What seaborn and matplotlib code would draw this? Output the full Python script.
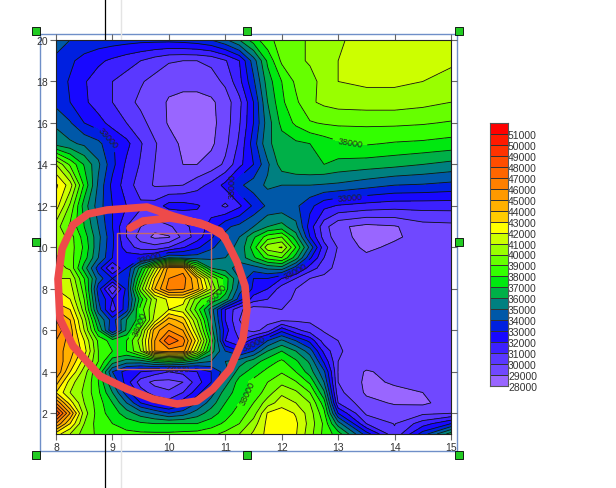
import numpy as np
import matplotlib
matplotlib.use('agg')
import matplotlib.pyplot as plt
from matplotlib.colors import ListedColormap
from matplotlib.patches import Rectangle
import seaborn as sns

# grid, values in thousands
x_vals = [8, 8.25, 8.5, 8.75, 9, 9.25, 9.5, 9.75, 10, 10.25, 10.5, 10.75, 11, 11.25, 11.5, 11.75,
          12, 12.25, 12.5, 12.75, 13, 13.5, 14, 14.5, 15]
y_vals = [20, 19, 18, 17, 16, 15, 14, 13, 12, 11, 10.5, 10, 9.5, 9, 8.5, 8, 7.5, 7, 6.5, 6, 5.5, 5,
          4.5, 4, 3.5, 3, 2.5, 2, 1.5, 1]
z_rows = [
    [34.2, 34, 33.8, 33.6, 33.5, 33.4, 33.3, 33.3, 33.3, 33.4, 33.6, 34, 34.8, 36, 37.5, 38.7, 39.4, 39.8, 40.1, 40.5, 40.9, 41.3, 41.5, 41.5, 41.5],
    [33.9, 33.2, 32.6, 32.2, 31.8, 31.4, 31, 30.5, 30.1, 30, 30, 30.2, 30.9, 32, 34.5, 37.2, 39.2, 39.8, 40.1, 40.5, 41, 41.5, 41.6, 41.5, 41.2],
    [33.5, 32.9, 32.1, 31.5, 31, 30.6, 30.1, 29.7, 29.3, 29.3, 29.4, 29.6, 30.2, 31.7, 33.8, 36.5, 38, 39.2, 39.7, 40.3, 41, 41.2, 41.2, 41, 40.6],
    [33.7, 33, 32.2, 31.5, 31, 30.3, 29.8, 29.4, 28.9, 28.7, 28.6, 28.8, 29.5, 30.7, 33, 36, 37.8, 38.8, 39.85, 40.2, 40.4, 40.5, 40.5, 40.3, 40],
    [34.8, 34.1, 33, 32.4, 31.6, 31, 30.3, 29.6, 28.9, 28.6, 28.6, 28.7, 29.5, 30.9, 33, 35.5, 37.3, 38.2, 38.9, 39.1, 39.2, 39.2, 39.2, 39.1, 38.9],
    [35.6, 35.2, 34.8, 34.3, 33.1, 32.3, 31.1, 30.1, 29.4, 28.8, 28.6, 28.8, 29.7, 31.2, 33.5, 35.8, 36.5, 36.8, 37, 37.4, 37.8, 38.1, 37.9, 37.8, 37.6],
    [41, 38.8, 36.9, 35.2, 33.3, 31.8, 30.9, 30, 29.3, 29, 29, 29.4, 30.2, 31.7, 33, 34.8, 36.5, 36.9, 37, 37, 36.7, 36.5, 36.3, 36, 35.7],
    [43.2, 41.5, 37.8, 34.8, 32.7, 31.5, 30.5, 29.9, 29.9, 30, 30.6, 31.3, 32.3, 33.8, 34.5, 35.2, 35, 35, 35, 34.9, 34.8, 34.4, 34, 33.9, 33.7],
    [42.5, 39.8, 36.5, 34.5, 33, 32, 31.2, 31.4, 32.4, 32.4, 32.1, 31.6, 30.8, 31.8, 33.2, 34.2, 34.3, 34.2, 33.3, 32.3, 31.9, 31.6, 31.4, 31.4, 31.4],
    [40.5, 38.8, 37, 35, 33, 31, 30, 29.3, 29.8, 30.6, 31.5, 32.3, 33.8, 34.3, 35, 36, 36.4, 35.3, 32.5, 30.4, 29.2, 28.7, 28.9, 29.6, 29.7],
    [41, 39.5, 37.5, 35.3, 33.2, 31, 29.5, 28.8, 28.9, 30.3, 31.5, 32.8, 34.2, 35, 36.8, 38.5, 39, 36.5, 33, 30.6, 29.4, 28.6, 28.8, 29.5, 29.6],
    [41, 39.5, 37.8, 35.2, 33.1, 31.5, 30.6, 30.4, 31, 31.9, 32.8, 33.8, 34.7, 35.2, 37.5, 40.6, 41.1, 38, 34.7, 31.4, 29.9, 28.7, 29.3, 29.5, 29.5],
    [40, 39.5, 37.5, 35, 33, 32.5, 32.7, 33.3, 35, 34.6, 34.5, 34.8, 35, 35.4, 36.8, 38.4, 39, 36.5, 33.2, 31, 29.7, 29.3, 29.4, 29.5, 29.5],
    [40.5, 39.8, 36.5, 33.5, 30.8, 33, 36.5, 41, 45.5, 45.5, 39.5, 36, 35.5, 34.5, 34.5, 35.2, 35.5, 33.5, 31.5, 30.5, 29.6, 29.5, 29.5, 29.5, 29.5],
    [41, 41, 38, 34.5, 33, 33.2, 38, 43, 46, 46.5, 44, 40, 37.5, 35, 33, 33, 32, 31, 30, 29.7, 29.5, 29.5, 29.5, 29.5, 29.5],
    [42, 41.5, 38.5, 33.5, 30, 33.3, 39.5, 44, 46.5, 46.2, 44.5, 41, 37.5, 34.5, 32.8, 32, 30.5, 30, 29.8, 29.6, 29.5, 29.5, 29.5, 29.5, 29.5],
    [42.5, 42, 39, 34, 32, 33.3, 37.5, 40.8, 42.3, 42.5, 39.5, 37.8, 36.5, 33.5, 31.5, 31, 30.2, 29.9, 29.7, 29.6, 29.5, 29.5, 29.5, 29.5, 29.5],
    [44, 43, 39.5, 34.5, 31.5, 33.5, 38.5, 41, 42, 41.5, 38.5, 35.5, 32, 30.2, 29.4, 29.7, 30, 29.8, 29.7, 29.6, 29.5, 29.5, 29.5, 29.5, 29.5],
    [46, 44, 40.5, 36, 33.5, 36, 37.5, 41.5, 44.5, 43.5, 40, 36, 32, 30, 29.3, 29.6, 29.8, 29.8, 29.8, 29.7, 29.6, 29.5, 29.5, 29.5, 29.5],
    [47, 44.5, 41, 37, 33, 36.2, 39.5, 44.5, 46, 45, 41, 36.5, 32.5, 30.3, 29.6, 30.5, 32.7, 31.3, 30.5, 29.9, 29.9, 29.5, 29.5, 29.5, 29.5],
    [46, 44.5, 42, 38.8, 37.5, 38, 40.5, 45, 48, 46.5, 42.5, 37.5, 32, 31, 32.5, 34, 35.2, 34, 32.7, 30.5, 30, 29.5, 29.5, 29.5, 29.5],
    [45.5, 44.5, 42.5, 39, 38, 38, 40, 45, 45.5, 45.5, 41, 36.5, 34, 33, 34, 36, 37, 36, 34.5, 31.7, 30.1, 29.5, 29.5, 29.5, 29.5],
    [46, 44, 41.5, 39, 36.5, 35.5, 35.5, 36.5, 37, 36.5, 35.5, 35, 35, 35.5, 36.5, 37.5, 38.2, 37.2, 35.8, 32.8, 30, 29.5, 29.5, 29.5, 29.5],
    [46, 43, 40.5, 38, 34, 32.5, 32, 31.5, 31, 31.3, 32, 33, 34.5, 36.5, 37.5, 38.3, 38.9, 38, 36.5, 34.2, 29.95, 28.9, 29.3, 29.6, 29.6],
    [44.5, 41.5, 40, 38, 35, 32.5, 30.5, 29.7, 29.7, 30, 31.5, 33, 35.5, 37.5, 38.3, 39, 39.7, 39.1, 37.8, 35, 30, 28.8, 29.1, 29.5, 29.6],
    [43, 41, 39.8, 38.2, 36, 33.5, 31.5, 30.5, 30.1, 31, 32.5, 34.5, 36.5, 37.5, 38.3, 39.5, 40.8, 40.2, 39, 36.2, 30.3, 28.85, 28.8, 29, 29.6],
    [46, 42.5, 40, 38.5, 37, 35, 33, 32, 31.5, 32.5, 34, 35.5, 37, 38, 39, 40.5, 41.5, 41, 40, 37.5, 31, 29.3, 28.9, 28.8, 29.5],
    [49, 45, 40.5, 38.5, 37.5, 36.5, 35.5, 34.8, 34, 34.5, 35.5, 36.5, 37.5, 38.5, 39.5, 42.1, 42.6, 41.9, 40.5, 38.3, 33, 29.8, 29.5, 29.8, 30],
    [46, 43, 40, 38.5, 38, 37.5, 37.2, 37, 37, 37, 37, 37.5, 38.2, 39, 40.5, 42.3, 42.8, 42.2, 40.6, 38.8, 35.5, 31, 29.95, 31.5, 33],
    [42.5, 41, 39.5, 38.8, 38.5, 38.3, 38.2, 38.2, 38.2, 38.3, 38.4, 38.7, 39.3, 40, 41.2, 42.3, 42.7, 42.1, 40.4, 38.7, 37.5, 33.5, 30.2, 33.5, 36.5],
]
levels = list(range(28000, 53000, 1000))
labelled_levels = [33000, 38000]
band_colors = ['#9966ff', '#7048ff', '#5a38ff', '#3c20ff', '#1808ff', '#0020e0', '#0058a8', '#008080',
               '#00b048', '#00e810', '#33ff00', '#66ff00', '#99ff00', '#ccff00', '#ffff00', '#ffcc00',
               '#ffb000', '#ff9900', '#ff8000', '#ff6600', '#ff4d00', '#ff3300', '#ff1a00', '#ff0000']
label_spots = [(8.85, 15.1), (10.95, 13.3), (13.2, 14.9), (13.2, 12.7), (12.25, 8.8), (11.4, 3.0),
               (9.4, 6.5), (10.85, 7.8), (10.15, 4.1), (9.65, 9.6), (11.55, 5.2)]

# hand drawn mark over the chart, in image pixels
scrawl_px = [(130, 229), (143, 222), (170, 219), (200, 224), (220, 232), (227, 243), (237, 263),
             (245, 287), (247, 310), (243, 340), (230, 370), (213, 390), (197, 402), (177, 405),
             (153, 400), (127, 390), (100, 377), (73, 347), (60, 320), (58, 280), (62, 250),
             (73, 226), (88, 215), (107, 211), (147, 208), (173, 217), (207, 227), (225, 238)]
handles_px = [(36, 32), (247, 32), (459, 32), (36, 243), (459, 243), (36, 456), (247, 456), (459, 456)]

W, H = 616, 489


def px_axes(fig, left, top, right, bottom):
    return fig.add_axes([left / W, 1 - bottom / H, (right - left) / W, (bottom - top) / H])


sns.set_style('white')
plt.rcParams['font.family'] = ['Liberation Sans', 'DejaVu Sans']

fig = plt.figure(figsize=(W / 100, H / 100), dpi=100)

# things behind the plot: cursor lines and the selection box
back = fig.add_axes([0, 0, 1, 1], zorder=0)
back.set_xlim(0, W)
back.set_ylim(H, 0)
back.axis('off')
back.plot([121, 121], [0, H], color='#e4e4e4', lw=1)
back.plot([105, 105], [0, H], color='black', lw=0.9)
back.add_patch(Rectangle((40, 35), 417, 417, fill=False, ec='#6f8fc8', lw=1))

ax = px_axes(fig, 56, 41, 451, 435)
ax.set_zorder(1)
z = np.array(z_rows) * 1000
cmap = ListedColormap(band_colors)
ax.contourf(x_vals, y_vals, z, levels=levels, colors=band_colors)
plain_levels = [v for v in levels if v not in labelled_levels]
ax.contour(x_vals, y_vals, z, levels=plain_levels, colors='#111111', linewidths=0.6)
cs = ax.contour(x_vals, y_vals, z, levels=labelled_levels, colors='#111111', linewidths=0.6)
ax.clabel(cs, manual=label_spots, fmt='%d', fontsize=6.5, colors='#222222', inline=True)
ax.set_xlim(8, 15)
ax.set_ylim(1, 20)
ax.set_xticks(range(8, 16))
ax.set_yticks(range(2, 21, 2))
ax.tick_params(axis='both', direction='out', length=4, width=0.8, color='#666666', labelcolor='#333333',
               labelsize=7.5, pad=2, top=True, right=True, bottom=True, left=True)
for spine in ax.spines.values():
    spine.set_linewidth(0.8)
    spine.set_color('#222222')

# colour scale
cax = px_axes(fig, 490, 124, 508, 387)
cax.set_zorder(1)
scale = np.array(levels[:-1])[::-1].reshape(-1, 1)
sns.heatmap(scale, ax=cax, cmap=cmap, vmin=28000, vmax=52000, cbar=False, linewidths=0.5, linecolor='#333333',
            xticklabels=False)
cax.set_yticks(np.arange(len(scale)) + 1)
cax.set_yticklabels(scale[:, 0], rotation=0, fontsize=7.5, color='#333333')
cax.yaxis.tick_right()
cax.tick_params(axis='y', length=0, pad=0)
for spine in cax.spines.values():
    spine.set_visible(True)
    spine.set_linewidth(0.8)
    spine.set_color('#555555')

# things on top: red scrawl, pink box, green handles
front = fig.add_axes([0, 0, 1, 1], zorder=2)
front.set_xlim(0, W)
front.set_ylim(H, 0)
front.axis('off')
front.add_patch(Rectangle((117, 234), 94, 136, fill=False, ec='#c46a6a', lw=1))
front.plot(*zip(*scrawl_px), color='#ee4a4a', lw=5.5, solid_capstyle='round', solid_joinstyle='round')
front.scatter(*zip(*handles_px), marker='s', s=26, color='#22cc22', edgecolor='black', linewidth=0.6, clip_on=False)

fig.savefig('out.png', dpi=100)
